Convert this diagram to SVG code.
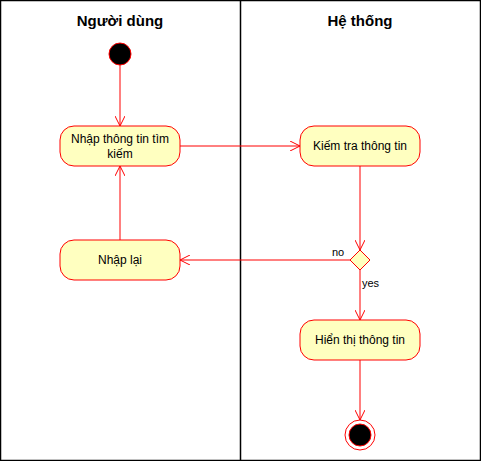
<svg xmlns="http://www.w3.org/2000/svg" width="481" height="461" viewBox="0 0 481 461">
<defs>
<style>
.lane{fill:none;stroke:#000;stroke-width:1.5}
.act{fill:#FFFFC0;stroke:#FF0000;stroke-width:1}
.t{font-family:"Liberation Sans",Arial,sans-serif;font-size:12px;fill:#000;text-anchor:middle}
.h{font-family:"Liberation Sans",Arial,sans-serif;font-size:15px;font-weight:bold;fill:#000;text-anchor:middle}
.lbl{font-family:"Liberation Sans",Arial,sans-serif;font-size:11px;fill:#000}
.edge{fill:none;stroke:#FF0000;stroke-width:1}
</style>
<marker id="arr" viewBox="0 0 10 10" refX="10" refY="5" markerWidth="10" markerHeight="10" markerUnits="userSpaceOnUse" orient="auto">
<path d="M0,0 L10,5 L0,10" fill="none" stroke="#FF0000" stroke-width="1"/>
</marker>
</defs>
<rect width="481" height="461" fill="#fff"/>
<g id="lanes">
<rect class="lane" x="0.5" y="0.5" width="480" height="460"/>
<line class="lane" x1="240.5" y1="0.5" x2="240.5" y2="460.5"/>
<text class="h" x="120" y="26">Người dùng</text>
<text class="h" x="360" y="26">Hệ thống</text>
</g>
<g id="connectors">
<path class="edge" d="M120,65 L120,126" marker-end="url(#arr)"/>
<path class="edge" d="M180,146 L300,146" marker-end="url(#arr)"/>
<path class="edge" d="M360,166 L360,250" marker-end="url(#arr)"/>
<path class="edge" d="M350,260 L180,260" marker-end="url(#arr)"/>
<path class="edge" d="M120,240 L120,166" marker-end="url(#arr)"/>
<path class="edge" d="M360,270 L360,320" marker-end="url(#arr)"/>
<path class="edge" d="M360,360 L360,420" marker-end="url(#arr)"/>
<text class="lbl" x="332" y="256">no</text>
<text class="lbl" x="362" y="287">yes</text>
</g>
<g id="start"><circle cx="120" cy="54" r="11" fill="#000" stroke="#FF0000" stroke-width="1"/></g>
<g id="nhap">
<rect class="act" x="60" y="126" width="120" height="40" rx="14" ry="14"/>
<text class="t" x="120" y="143">Nhập thông tin tìm</text>
<text class="t" x="120" y="158">kiếm</text>
</g>
<g id="kiemtra">
<rect class="act" x="300" y="126" width="120" height="40" rx="14" ry="14"/>
<text class="t" x="360" y="150">Kiếm tra thông tin</text>
</g>
<g id="decision"><path d="M360,250 L370,260 L360,270 L350,260 Z" class="act"/></g>
<g id="nhaplai">
<rect class="act" x="60" y="240" width="120" height="40" rx="14" ry="14"/>
<text class="t" x="120" y="264">Nhập lại</text>
</g>
<g id="hienthi">
<rect class="act" x="300" y="320" width="120" height="40" rx="14" ry="14"/>
<text class="t" x="360" y="344">Hiển thị thông tin</text>
</g>
<g id="end">
<circle cx="360" cy="435" r="15" fill="#fff" stroke="#FF0000" stroke-width="1"/>
<circle cx="360" cy="435" r="11" fill="#000" stroke="#FF0000" stroke-width="1"/>
</g>
</svg>
